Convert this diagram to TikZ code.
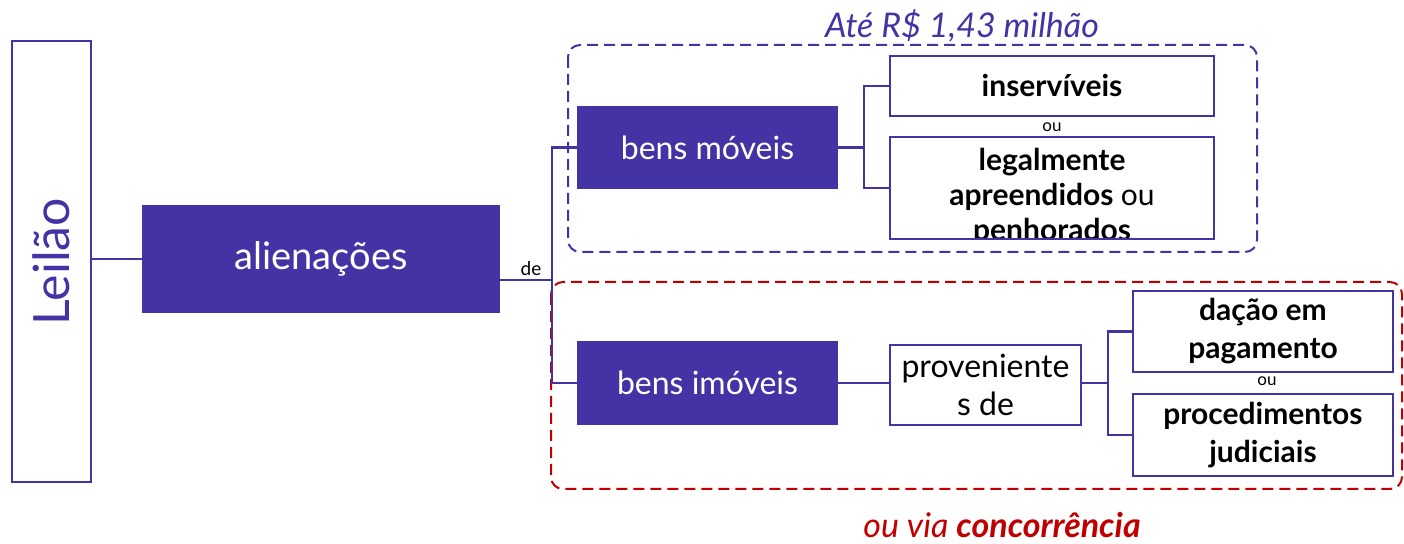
\documentclass[tikz,border=0pt]{standalone}
\usepackage{fontspec}
\setmainfont{Lato}
\usetikzlibrary{positioning}
\definecolor{leilao-purple}{RGB}{67,51,164}
\definecolor{leilao-red}{RGB}{192,0,0}
\tikzset{
    filledbox/.style={fill=leilao-purple, text=white, inner sep=0pt, align=center},
    outlinebox/.style={draw=leilao-purple, line width=1.2pt, fill=white, inner sep=0pt, align=center},
    linkline/.style={draw=leilao-purple, line width=1.2pt},
    groupframe/.style={line width=1pt, dash pattern=on 5.5pt off 3pt, rounded corners=6pt},
    boldtext/.style={font=\fontsize{15pt}{17.5pt}\selectfont\bfseries},
    widetext/.style={font=\fontsize{15pt}{19pt}\selectfont\bfseries},
    plaintext/.style={font=\fontsize{16pt}{19pt}\selectfont},
    smalltext/.style={font=\fontsize{8.5pt}{9pt}\selectfont},
}
\begin{document}
\begin{tikzpicture}[x=0.5pt, y=-0.5pt]
    \useasboundingbox (0,0) rectangle (1404,544);

    % GROUP FRAMES
    \draw[groupframe, leilao-purple] (568,45) rectangle (1257,252);
    \draw[groupframe, leilao-red] (551,282) rectangle (1402,489);
    \node[font=\fontsize{17pt}{20pt}\selectfont\itshape, text=leilao-purple] (teto) at (962,26)
        {Até R\$ 1,43 milhão};
    \node[font=\fontsize{17pt}{20pt}\selectfont\itshape, text=leilao-red] (concorr) at (1002,525)
        {ou via \textbf{concorrência}};

    % LEFT COLUMN
    \node[outlinebox, minimum width=39.5pt, minimum height=220.5pt] (leilao) at (51.5,261.5) {};
    \node[rotate=90, text=leilao-purple, font=\fontsize{25pt}{30pt}\selectfont] (leilaotext) at (leilao.center) {Leilão};
    \node[filledbox, font=\fontsize{19pt}{22pt}\selectfont, minimum width=179pt, minimum height=54pt] (alien) at (321,259)
        {alienações};

    % BENS
    \node[filledbox, plaintext, minimum width=130.5pt, minimum height=41.5pt] (moveis) at (707.5,147.5)
        {bens móveis};
    \node[filledbox, plaintext, minimum width=130.5pt, minimum height=42pt] (imoveis) at (707.5,383)
        {bens imóveis};

    % MOVEIS BRANCH
    \node[outlinebox, boldtext, minimum width=162pt, minimum height=30pt] (inserv) at (1052,86)
        {inservíveis};
    \node[outlinebox, minimum width=162pt, minimum height=51pt,
        path picture={\node[boldtext, align=center] at ([yshift=-4.5pt]path picture bounding box.center)
            {legalmente\\ apreendidos \mdseries ou\\ penhorados};}]
        (legal) at (1052,188) {};
    \node[smalltext] (ou1) at (1052,127) {ou};

    % IMOVEIS BRANCH
    \node[outlinebox, plaintext, minimum width=95.5pt, minimum height=40pt] (prov) at (985.5,385)
        {proveniente\\ s de};
    \node[outlinebox, widetext, minimum width=130pt, minimum height=40.5pt] (dacao) at (1263,331.5)
        {dação em\\ pagamento};
    \node[outlinebox, widetext, minimum width=130pt, minimum height=41pt] (proc) at (1263,435)
        {procedimentos\\ judiciais};
    \node[smalltext] (ou2) at (1267,381) {ou};

    % CONNECTORS
    \coordinate (de) at (552,280);
    \coordinate (mfork) at (864,0);
    \coordinate (ifork) at (1108,0);
    \draw[linkline] (leilao.east |- alien.west) -- (alien.west);
    \draw[linkline] (alien.east |- de) -- (de);
    \node[font=\fontsize{9.5pt}{10pt}\selectfont, anchor=south] (delabel) at (531,283) {de};
    \draw[linkline] (moveis.west) -- (moveis.west -| de) -- (imoveis.west -| de) -- (imoveis.west);
    \draw[linkline] (moveis.east) -- (moveis.east -| mfork);
    \draw[linkline] (inserv.west) -| (mfork |- legal.west) -- (legal.west);
    \draw[linkline] (imoveis.east) -- (imoveis.east -| prov.west);
    \draw[linkline] (prov.east |- imoveis.east) -- (imoveis.east -| ifork);
    \draw[linkline] (dacao.west) -| (ifork |- proc.west) -- (proc.west);
\end{tikzpicture}
\end{document}
